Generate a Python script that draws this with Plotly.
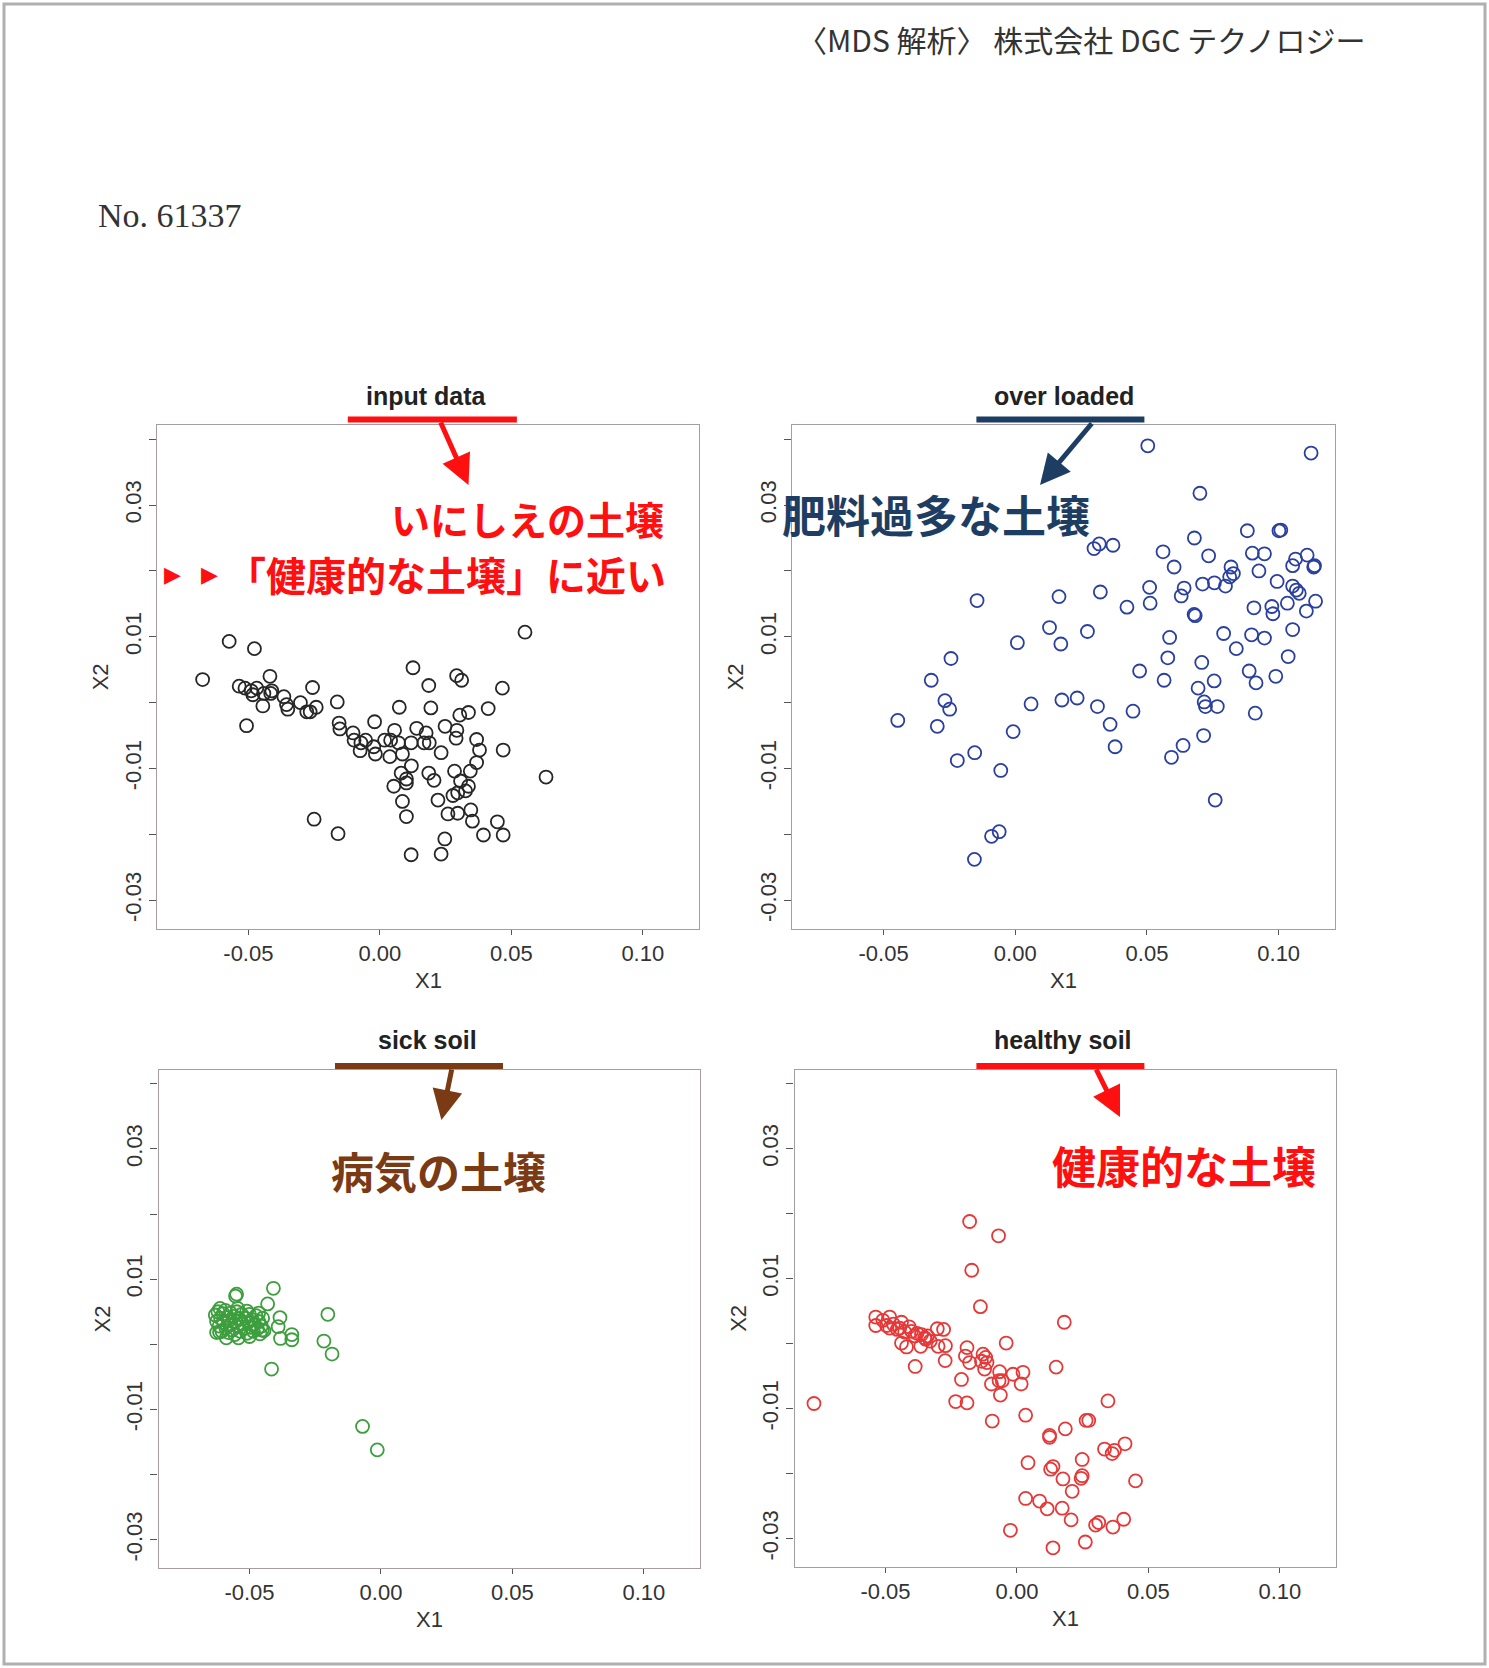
import plotly.graph_objects as go

W, H = 1489, 1668

# ---------------- data (MDS coordinates X1, X2) ----------------
input_pts = [(-0.0674,0.0035),(-0.0573,0.0093),(-0.0477,0.0082),(-0.0418,0.0040),(-0.0535,0.0025),(-0.0513,0.0022),
    (-0.0489,0.0018),(-0.0468,0.0022),(-0.0483,0.0012),(-0.0441,0.0014),(-0.0411,0.0018),(-0.0415,0.0014),(-0.0445,-0.0005),
    (-0.0365,0.0009),(-0.0355,-0.0003),(-0.0350,-0.0010),(-0.0302,0.0000),(-0.0278,-0.0014),(-0.0265,-0.0014),(-0.0242,-0.0007),
    (-0.0256,0.0023),(-0.0507,-0.0035),(-0.0162,0.0001),(-0.0155,-0.0031),(-0.0152,-0.0040),(-0.0102,-0.0046),(-0.0098,-0.0057),
    (-0.0072,-0.0061),(-0.0075,-0.0073),(-0.0054,-0.0057),(-0.0020,-0.0029),(-0.0017,-0.0078),(-0.0023,-0.0067),(0.0018,-0.0057),
    (0.0041,-0.0057),(0.0038,-0.0082),(0.0056,-0.0042),(0.0071,-0.0061),(0.0086,-0.0078),(0.0074,-0.0007),(0.0119,-0.0061),
    (0.0126,0.0053),(0.0140,-0.0039),(0.0176,-0.0046),(0.0168,-0.0061),(0.0188,-0.0061),(0.0186,0.0026),(0.0194,-0.0008),
    (0.0233,-0.0076),(0.0248,-0.0036),(0.0293,-0.0042),(0.0290,-0.0054),(0.0292,0.0041),(0.0311,0.0034),(0.0304,-0.0019),
    (0.0337,-0.0015),(0.0412,-0.0009),(0.0466,0.0022),(0.0552,0.0107),(0.0368,-0.0056),(0.0379,-0.0072),(0.0469,-0.0072),
    (0.0368,-0.0091),(0.0344,-0.0104),(0.0284,-0.0104),(0.0307,-0.0119),(0.0337,-0.0127),(0.0326,-0.0134),(0.0278,-0.0141),
    (0.0296,-0.0137),(0.0120,-0.0096),(0.0081,-0.0107),(0.0101,-0.0116),(0.0101,-0.0122),(0.0053,-0.0127),(0.0186,-0.0107),
    (0.0206,-0.0118),(0.0221,-0.0148),(0.0086,-0.0150),(0.0101,-0.0173),(0.0259,-0.0169),(0.0296,-0.0168),(0.0346,-0.0163),
    (0.0352,-0.0180),(0.0447,-0.0181),(0.0394,-0.0201),(0.0469,-0.0201),(0.0247,-0.0207),(0.0233,-0.0230),(0.0119,-0.0231),
    (-0.0250,-0.0177),(-0.0159,-0.0199),(0.0632,-0.0113)]

overloaded_pts = [(0.0503,0.0390),(0.1123,0.0379),(0.0701,0.0318),(0.0881,0.0261),(0.1001,0.0261),(0.1008,0.0262),
    (0.0680,0.0250),(0.0299,0.0234),(0.0319,0.0241),(0.0371,0.0239),(0.0561,0.0229),(0.0734,0.0223),(0.0900,0.0227),
    (0.0946,0.0226),(0.1064,0.0218),(0.1108,0.0224),(0.1053,0.0208),(0.1136,0.0208),(0.1133,0.0206),(0.0603,0.0206),
    (0.0819,0.0206),(0.0925,0.0200),(0.0828,0.0196),(0.0814,0.0191),(0.0798,0.0177),(0.0756,0.0182),(0.0711,0.0180),
    (0.0994,0.0184),(0.1053,0.0177),(0.1067,0.0171),(0.1078,0.0166),(0.0641,0.0174),(0.0630,0.0162),(0.0510,0.0175),
    (0.0512,0.0151),(0.0323,0.0168),(0.0166,0.0161),(-0.0145,0.0155),(0.0424,0.0145),(0.0679,0.0134),(0.0683,0.0132),
    (0.0906,0.0144),(0.0974,0.0146),(0.0978,0.0135),(0.1033,0.0151),(0.1105,0.0139),(0.1140,0.0154),(0.1053,0.0111),
    (0.0791,0.0105),(0.0897,0.0103),(0.0946,0.0098),(0.0586,0.0099),(0.0839,0.0082),(0.0130,0.0114),(0.0274,0.0108),
    (0.0173,0.0089),(0.0008,0.0091),(-0.0244,0.0067),(-0.0319,0.0034),(0.0579,0.0068),(0.0708,0.0061),(0.1036,0.0070),
    (0.0888,0.0048),(0.0914,0.0030),(0.0989,0.0040),(0.0472,0.0048),(0.0565,0.0034),(0.0755,0.0033),(0.0694,0.0022),
    (0.0717,0.0001),(0.0722,-0.0006),(0.0767,-0.0006),(0.0911,-0.0016),(-0.0267,0.0003),(-0.0249,-0.0010),(-0.0446,-0.0027),
    (-0.0296,-0.0036),(0.0060,-0.0002),(0.0177,0.0004),(0.0235,0.0007),(0.0312,-0.0006),(0.0447,-0.0013),(0.0360,-0.0033),
    (0.0379,-0.0067),(-0.0008,-0.0044),(-0.0154,-0.0076),(-0.0220,-0.0088),(-0.0055,-0.0103),(0.0715,-0.0050),
    (0.0637,-0.0065),(0.0593,-0.0083),(0.0759,-0.0148),(-0.0090,-0.0203),(-0.0061,-0.0196),(-0.0155,-0.0238)]

sick_pts = [(-0.0549,0.0077),(-0.0553,0.0074),(-0.0409,0.0086),(-0.0431,0.0062),(-0.0545,0.0055),(-0.0510,0.0051),
    (-0.0465,0.0048),(-0.0384,0.0041),(-0.0391,0.0027),(-0.0382,0.0009),(-0.0339,0.0015),(-0.0339,0.0007),(-0.0202,0.0046),
    (-0.0217,0.0005),(-0.0186,-0.0015),(-0.0416,-0.0038),(-0.0070,-0.0126),(-0.0014,-0.0162),(-0.0452,0.0022),(-0.0614,0.0019),
    (-0.0630,0.0045),(-0.0625,0.0035),(-0.0620,0.0050),(-0.0615,0.0028),(-0.0610,0.0040),(-0.0605,0.0020),(-0.0600,0.0047),
    (-0.0598,0.0033),(-0.0592,0.0052),(-0.0590,0.0025),(-0.0585,0.0041),(-0.0580,0.0018),(-0.0578,0.0036),(-0.0572,0.0048),
    (-0.0570,0.0030),(-0.0565,0.0022),(-0.0560,0.0043),(-0.0556,0.0015),(-0.0552,0.0035),(-0.0548,0.0050),(-0.0545,0.0027),
    (-0.0540,0.0040),(-0.0535,0.0020),(-0.0530,0.0046),(-0.0527,0.0032),(-0.0520,0.0024),(-0.0515,0.0040),(-0.0510,0.0017),
    (-0.0505,0.0034),(-0.0500,0.0046),(-0.0495,0.0026),(-0.0490,0.0038),(-0.0485,0.0020),(-0.0480,0.0031),(-0.0475,0.0044),
    (-0.0470,0.0024),(-0.0465,0.0035),(-0.0460,0.0016),(-0.0455,0.0028),(-0.0450,0.0040),(-0.0445,0.0021),(-0.0625,0.0018),
    (-0.0612,0.0055),(-0.0588,0.0010),(-0.0542,0.0010),(-0.0500,0.0012)]

healthy_pts = [(-0.0180,0.0188),(-0.0070,0.0166),(-0.0172,0.0113),(-0.0139,0.0057),(0.0180,0.0033),(-0.0772,-0.0092),
    (-0.0537,0.0041),(-0.0537,0.0028),(-0.0484,0.0041),(-0.0496,0.0028),(-0.0484,0.0024),(-0.0439,0.0033),(-0.0446,0.0024),
    (-0.0427,0.0018),(-0.0401,0.0019),(-0.0389,0.0012),(-0.0363,0.0014),(-0.0351,0.0009),(-0.0347,0.0007),(-0.0439,0.0001),
    (-0.0420,-0.0005),(-0.0366,-0.0004),(-0.0303,0.0023),(-0.0279,0.0022),(-0.0300,-0.0004),(-0.0272,-0.0003),(-0.0273,-0.0026),
    (-0.0387,-0.0035),(-0.0190,-0.0006),(-0.0196,-0.0019),(-0.0180,-0.0029),(-0.0129,-0.0016),(-0.0119,-0.0021),(-0.0135,-0.0027),
    (-0.0114,-0.0029),(-0.0123,-0.0039),(-0.0066,-0.0043),(-0.0041,0.0001),(-0.0015,-0.0047),(0.0023,-0.0044),(-0.0068,-0.0057),
    (-0.0097,-0.0062),(-0.0056,-0.0057),(0.0016,-0.0062),(-0.0063,-0.0079),(-0.0211,-0.0055),(-0.0233,-0.0089),(-0.0190,-0.0091),
    (-0.0094,-0.0119),(0.0033,-0.0110),(0.0149,-0.0036),(0.0346,-0.0088),(0.0184,-0.0131),(0.0124,-0.0141),(0.0124,-0.0144),
    (0.0263,-0.0118),(0.0273,-0.0118),(0.0333,-0.0162),(0.0362,-0.0169),(0.0371,-0.0164),(0.0411,-0.0154),(0.0248,-0.0178),
    (0.0042,-0.0183),(0.0137,-0.0189),(0.0128,-0.0193),(0.0175,-0.0208),(0.0244,-0.0207),(0.0248,-0.0203),(0.0210,-0.0227),
    (0.0451,-0.0211),(0.0033,-0.0238),(0.0086,-0.0242),(0.0115,-0.0254),(0.0172,-0.0253),(0.0206,-0.0271),(0.0299,-0.0279),
    (0.0311,-0.0275),(0.0365,-0.0282),(0.0406,-0.0270),(-0.0025,-0.0287),(0.0137,-0.0314),(0.0260,-0.0305),
    (-0.0510,0.0036),(-0.0470,0.0030),(-0.0455,0.0022),(-0.0410,0.0026),(-0.0380,0.0016),(-0.0340,0.0012),(-0.0330,0.0004)]

panel_titles = ["input data", "over loaded", "sick soil", "healthy soil"]
panel_notes = ["いにしえの土壌", "肥料過多な土壌", "病気の土壌", "健康的な土壌"]
note_sub = "「健康的な土壌」に近い"
x_ticks = [-0.05, 0.00, 0.05, 0.10]
x_ticklabels = ["-0.05", "0.00", "0.05", "0.10"]
y_ticks = [-0.03, -0.02, -0.01, 0.00, 0.01, 0.02, 0.03, 0.04]
y_ticklabels = ["-0.03", "", "-0.01", "", "0.01", "", "0.03", ""]
header_text = "〈MDS 解析〉 株式会社 DGC テクノロジー"
sample_no = "No. 61337"

XR = [-0.0846, 0.1213]
YR = [-0.0343, 0.0421]

# ---------------- layout helpers (pixel -> paper) ----------------
def px(x):
    return x / W

def py(y):
    return 1 - y / H

# plot boxes in pixels: (left, top, right, bottom)
boxes = [(157.4, 425.4, 698.8, 928.5), (792.4, 425.4, 1334.8, 928.5),
         (158.5, 1070.0, 699.9, 1567.8), (794.5, 1070.0, 1335.9, 1566.7)]
marker_colors = ["#262626", "#2a3f9f", "#3d9e3d", "#e63838"]
series = [input_pts, overloaded_pts, sick_pts, healthy_pts]

fig = go.Figure()
tick_font = dict(family="Liberation Sans, Arial, sans-serif", size=22, color="#333333")
layout_axes = {}
for i, (pts, col, box) in enumerate(zip(series, marker_colors, boxes), start=1):
    xs = [p[0] for p in pts]
    ys = [p[1] for p in pts]
    fig.add_trace(go.Scatter(x=xs, y=ys, mode="markers", xaxis=f"x{i}", yaxis=f"y{i}",
                             marker=dict(symbol="circle-open", size=13, color=col,
                                         line=dict(width=1.8, color=col)),
                             showlegend=False, hoverinfo="skip"))
    l, t, r, b = box
    layout_axes[f"xaxis{i}"] = dict(domain=[px(l), px(r)], range=XR, anchor=f"y{i}",
                                    tickvals=x_ticks, ticktext=x_ticklabels, ticks="outside",
                                    ticklen=5, tickwidth=1, tickcolor="#555555",
                                    showline=True, mirror=True, linecolor="#a89ca4", linewidth=1.2,
                                    showgrid=False, zeroline=False, tickfont=tick_font)
    layout_axes[f"yaxis{i}"] = dict(domain=[py(b), py(t)], range=YR, anchor=f"x{i}",
                                    tickvals=y_ticks, ticktext=y_ticklabels, ticks="outside",
                                    ticklen=7, tickwidth=1, tickcolor="#555555", tickangle=-90,
                                    showline=True, mirror=True, linecolor="#a89ca4", linewidth=1.2,
                                    showgrid=False, zeroline=False, tickfont=tick_font)

annotations = []
shapes = []
# outer frame
shapes.append(dict(type="rect", xref="paper", yref="paper", x0=px(4), x1=px(1485), y0=py(1664), y1=py(4),
                   line=dict(color="#b0b0b0", width=3), fillcolor="rgba(0,0,0,0)", layer="above"))

axis_font = dict(family="Liberation Sans, Arial, sans-serif", size=22, color="#333333")
for i, box in enumerate(boxes):
    l, t, r, b = box
    cx = (l + r) / 2
    annotations.append(dict(text="X1", x=px(cx), y=py(b + 52), xref="paper", yref="paper",
                            showarrow=False, font=axis_font, xanchor="center", yanchor="middle"))
    annotations.append(dict(text="X2", x=px(l - 56), y=py((t + b) / 2), xref="paper", yref="paper",
                            showarrow=False, font=axis_font, textangle=-90, xanchor="center", yanchor="middle"))

title_font = dict(family="Liberation Sans, Arial, sans-serif", size=25, color="#222222")
title_pos = [(426.5, 395.7), (1063.6, 395.7), (427.6, 1040.2), (1062.5, 1040.2)]
bar_pos = [(347.8, 516.9, 416.5), (976.4, 1144.4, 416.5), (335.0, 503.0, 1063.0), (976.4, 1144.4, 1063.0)]
bar_colors = ["#ff1010", "#1d3e62", "#7a3a14", "#ff1010"]
arrows = [((440, 421), (468.5, 485)), ((1093, 422), (1040, 485)),
          ((452, 1068), (441.4, 1120)), ((1095.5, 1068), (1120, 1117))]
for (tx, ty), title, (bx0, bx1, by), bc, (tail, tip) in zip(title_pos, panel_titles, bar_pos, bar_colors, arrows):
    annotations.append(dict(text=f"<b>{title}</b>", x=px(tx), y=py(ty), xref="paper", yref="paper",
                            showarrow=False, font=title_font, xanchor="center", yanchor="middle"))
    shapes.append(dict(type="rect", xref="paper", yref="paper", x0=px(bx0), x1=px(bx1),
                       y0=py(by + 6), y1=py(by), line=dict(width=0), fillcolor=bc))
    annotations.append(dict(text="", x=px(tip[0]), y=py(tip[1]), xref="paper", yref="paper",
                            ax=tail[0] - tip[0], ay=tail[1] - tip[1], axref="pixel", ayref="pixel",
                            showarrow=True, arrowhead=2, arrowsize=1.2, arrowwidth=5, arrowcolor=bc,
                            standoff=0, startstandoff=0))

jp = "Noto Sans CJK JP"
note_specs = [
    (panel_notes[0], 665.8, 518.0, "right", 39, "#ff1010"),
    (panel_notes[1], 935.5, 513.7, "center", 44, "#1d3e62"),
    (panel_notes[2], 438.2, 1170.0, "center", 43, "#7a3a14"),
    (panel_notes[3], 1184.2, 1165.0, "center", 44, "#ff1010"),
    (note_sub, 668.0, 574.3, "right", 40, "#ff1010"),
]
for text, x, y, anchor, size, color in note_specs:
    annotations.append(dict(text=f"<b>{text}</b>", x=px(x), y=py(y), xref="paper", yref="paper", showarrow=False,
                            xanchor=anchor, yanchor="middle",
                            font=dict(family=jp, size=size, color=color)))
for tx in (172.0, 209.5):
    annotations.append(dict(text="▶", x=px(tx), y=py(574.3), xref="paper", yref="paper", showarrow=False,
                            xanchor="center", yanchor="middle",
                            font=dict(family="DejaVu Sans", size=22, color="#ff1010")))

annotations.append(dict(text=header_text, x=px(1080.5), y=py(39), xref="paper", yref="paper", showarrow=False,
                        xanchor="center", yanchor="middle", font=dict(family=jp, size=30, color="#333333")))
annotations.append(dict(text=sample_no, x=px(96), y=py(216), xref="paper", yref="paper", showarrow=False,
                        xanchor="left", yanchor="middle",
                        font=dict(family="Liberation Serif, DejaVu Serif, serif", size=34, color="#333333")))

fig.update_layout(width=W, height=H, margin=dict(l=0, r=0, t=0, b=0, pad=0),
                  paper_bgcolor="white", plot_bgcolor="white",
                  annotations=annotations, shapes=shapes, **layout_axes)

fig.write_html("out.html", include_plotlyjs=True, config={"displayModeBar": False})
